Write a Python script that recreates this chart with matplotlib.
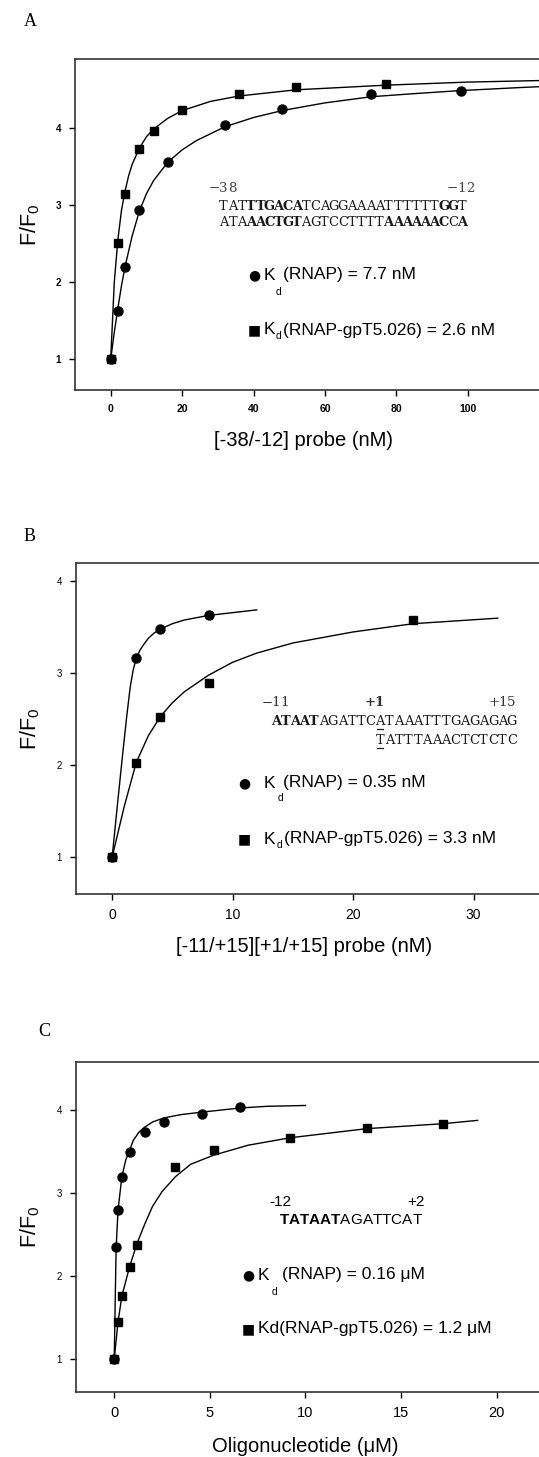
import matplotlib
matplotlib.use('Agg')
import matplotlib.pyplot as plt
from matplotlib.lines import Line2D

plt.rcParams['font.family'] = ['Liberation Sans', 'DejaVu Sans']
plt.rcParams['mathtext.fontset'] = 'custom'
plt.rcParams['mathtext.rm'] = 'Liberation Sans'
plt.rcParams['mathtext.bf'] = 'Liberation Sans:bold'
plt.rcParams['mathtext.it'] = 'Liberation Sans:italic'

# ---- panel A : [-38/-12] probe ----
a_conc_rnap = [0, 2, 4, 8, 16, 32, 48, 73, 98]
a_ratio_rnap = [1.0, 1.63, 2.2, 2.94, 3.56, 4.04, 4.25, 4.44, 4.49]
a_conc_cplx = [0, 2, 4, 8, 12, 20, 36, 52, 77]
a_ratio_cplx = [1.0, 2.51, 3.15, 3.73, 3.97, 4.24, 4.45, 4.54, 4.58]
# fitted curves
a_fit_x_rnap = [0, 1, 2, 3, 4, 6, 8, 10, 12, 16, 20, 24, 32, 40, 48, 60, 73, 85, 98, 115, 130]
a_fit_y_rnap = [1.0, 1.35, 1.66, 1.95, 2.2, 2.6, 2.92, 3.15, 3.32, 3.56, 3.72, 3.84, 4.02,
                4.14, 4.23, 4.33, 4.41, 4.45, 4.49, 4.53, 4.56]
a_fit_x_cplx = [0, 1, 2, 3, 4, 5, 6, 8, 10, 12, 16, 20, 28, 36, 52, 77, 100, 130]
a_fit_y_cplx = [1.0, 2.0, 2.55, 2.93, 3.18, 3.38, 3.53, 3.74, 3.89, 3.99, 4.13, 4.23, 4.35,
                4.42, 4.50, 4.56, 4.60, 4.63]

# ---- panel B : [-11/+15][+1/+15] probe ----
b_conc_rnap = [0, 2, 4, 8]
b_ratio_rnap = [1.0, 3.17, 3.48, 3.63]
b_conc_cplx = [0, 2, 4, 8, 25]
b_ratio_cplx = [1.0, 2.03, 2.53, 2.89, 3.58]
b_fit_x_rnap = [0, 0.4, 0.8, 1.2, 1.5, 1.75, 2, 2.3, 2.6, 3, 3.5, 4, 5, 6, 8, 10, 12]
b_fit_y_rnap = [1.0, 1.52, 2.03, 2.52, 2.85, 3.04, 3.16, 3.25, 3.31, 3.38, 3.44, 3.48, 3.54,
                3.58, 3.63, 3.66, 3.69]
b_fit_x_cplx = [0, 1, 2, 3, 4, 5, 6, 8, 10, 12, 15, 20, 25, 32]
b_fit_y_cplx = [1.0, 1.55, 2.03, 2.32, 2.53, 2.68, 2.8, 2.98, 3.12, 3.22, 3.33, 3.45, 3.54, 3.60]

# ---- panel C : oligonucleotide ----
c_conc_rnap = [0, 0.1, 0.2, 0.4, 0.8, 1.6, 2.6, 4.6, 6.6]
c_ratio_rnap = [1.0, 2.35, 2.80, 3.20, 3.50, 3.74, 3.86, 3.96, 4.04]
c_conc_cplx = [0, 0.2, 0.4, 0.8, 1.2, 3.2, 5.2, 9.2, 13.2, 17.2]
c_ratio_cplx = [1.0, 1.45, 1.76, 2.11, 2.37, 3.32, 3.52, 3.67, 3.79, 3.84]
c_fit_x_rnap = [0, 0.05, 0.1, 0.2, 0.4, 0.6, 0.8, 1.0, 1.3, 1.6, 2.0, 2.6, 3.5, 4.6, 6.6, 8, 10]
c_fit_y_rnap = [1.0, 1.7, 2.35, 2.8, 3.2, 3.4, 3.52, 3.64, 3.74, 3.8, 3.86, 3.91, 3.95,
                3.98, 4.03, 4.05, 4.06]
c_fit_x_cplx = [0, 0.2, 0.4, 0.8, 1.2, 1.6, 2.0, 2.5, 3.2, 4, 5.2, 7, 9.2, 13.2, 17.2, 19]
c_fit_y_cplx = [1.0, 1.45, 1.76, 2.11, 2.4, 2.63, 2.84, 3.02, 3.2, 3.35, 3.46, 3.58, 3.67,
                3.78, 3.84, 3.88]

W, H = 539, 1457
fig = plt.figure(figsize=(W / 100, H / 100), dpi=100)


def fx(x):
    return x / W


def fy(y):
    return 1 - y / H


def panel(left, top, right, bottom, xlim, ylim, xticks, xtick_size, weight):
    ax = fig.add_axes([left / W, 1 - bottom / H, (right - left) / W, (bottom - top) / H])
    ax.set_xlim(*xlim)
    ax.set_ylim(*ylim)
    ax.set_xticks(xticks)
    ax.set_yticks([1, 2, 3, 4])
    for s in ax.spines.values():
        s.set_linewidth(1.2)
        s.set_color('#333333')
    ax.tick_params(axis='x', direction='out', length=4, width=1, pad=6,
                   labelsize=xtick_size)
    ax.tick_params(axis='y', direction='out', length=4, width=1, pad=6, labelsize=7)
    for t in ax.get_xticklabels() + ax.get_yticklabels():
        t.set_fontweight(weight)
    ax.set_ylabel(r'F/F$_\mathregular{0}$', fontsize=15.5)
    return ax


def curves(ax, xr, yr, xc, yc, fxr, fyr, fxc, fyc):
    ax.plot(fxr, fyr, color='black', lw=1.0)
    ax.plot(fxc, fyc, color='black', lw=1.0)
    ax.plot(xr, yr, 'o', color='black', ms=6.5)
    ax.plot(xc, yc, 's', color='black', ms=6)


def seq(segments, x0, y, cw, size=9.4, color='#1a1a1a', underline=()):
    # typewriter style: one glyph per fixed-width cell
    i = 0
    for text, bold in segments:
        for ch in text:
            fig.text(fx(x0 + (i + 0.5) * cw), fy(y), ch, family='DejaVu Serif',
                     fontsize=size, fontweight='bold' if bold else 'normal',
                     color=color, ha='center', va='center')
            if i in underline:
                fig.add_artist(Line2D([fx(x0 + i * cw + 1.5), fx(x0 + (i + 1) * cw - 1.5)],
                                      [fy(y + 7.5), fy(y + 7.5)], color=color, lw=0.9))
            i += 1


def txt(x, y, s, size=12.5, **kw):
    fig.text(fx(x), fy(y), s, fontsize=size, ha='left', va='center', **kw)


# ---------------- A ----------------
axA = panel(75, 59, 575, 390, (-10, 130), (0.6, 4.9), [0, 20, 40, 60, 80, 100], 7.5, 'bold')
curves(axA, a_conc_rnap, a_ratio_rnap, a_conc_cplx, a_ratio_cplx,
       a_fit_x_rnap, a_fit_y_rnap, a_fit_x_cplx, a_fit_y_cplx)
axA.set_xlabel('[-38/-12] probe (nM)', fontsize=14.5)
axA.xaxis.set_label_coords((303 - 75) / 500, (390 - 440) / 331)
axA.xaxis.label.set_va('center')
axA.yaxis.set_label_coords((30 - 75) / 500, 0.5)
axA.yaxis.label.set_va('center')

txt(24, 22, 'A', 13, family='Liberation Serif')
seq([('\u221238', False)], 210, 188, 9.0, 9.6, '#444444')
seq([('\u221212', False)], 448, 188, 9.0, 9.6, '#444444')
seq([('TAT', False), ('TTGACA', True), ('TCAGGAAAATTTTTT', False), ('GG', True), ('T', False)],
    219, 206, 9.17)
seq([('ATA', False), ('AACTGT', True), ('AGTCCTTTT', False), ('AAAAAAC', True), ('C', False),
     ('A', True)], 219, 223, 9.17)
txt(248, 275, '\u25cf', 10, family='DejaVu Sans')
txt(264, 275, 'K')
txt(276, 292, 'd', 7.5)
txt(283, 275, '(RNAP) = 7.7 nM')
txt(248, 330, '\u25a0', 10, family='DejaVu Sans')
txt(264, 330, 'K')
txt(276, 336, 'd', 7.5)
txt(283, 330, '(RNAP-gpT5.026) = 2.6 nM')

# ---------------- B ----------------
axB = panel(76, 563, 594, 894, (-3, 40), (0.6, 4.2), [0, 10, 20, 30], 10, 'normal')
curves(axB, b_conc_rnap, b_ratio_rnap, b_conc_cplx, b_ratio_cplx,
       b_fit_x_rnap, b_fit_y_rnap, b_fit_x_cplx, b_fit_y_cplx)
axB.set_xlabel('[-11/+15][+1/+15] probe (nM)', fontsize=14.5)
axB.xaxis.set_label_coords((304 - 76) / 518, (894 - 947) / 331)
axB.xaxis.label.set_va('center')
axB.yaxis.set_label_coords((30 - 76) / 518, 0.5)
axB.yaxis.label.set_va('center')

txt(24, 536, 'B', 13, family='Liberation Serif')
cw_b = 9.42
seq([('\u221211', False)], 263, 703, 8.6, 9.6, '#333333')
seq([('+1', True)], 366, 703, 8.6, 9.6, '#333333')
seq([('+15', False)], 490, 703, 8.6, 9.6, '#333333')
seq([('ATAAT', True), ('AGATTCATAAATTTGAGAGAG', False)], 271.7, 721.7, cw_b,
    underline=(11,))
seq([('TATTTAAACTCTCTC', False)], 271.7 + 11 * cw_b, 740, cw_b, underline=(0,))
txt(238, 783, '\u25cf', 10, family='DejaVu Sans')
txt(264, 783, 'K')
txt(278, 798, 'd', 7.5)
txt(283, 783, '(RNAP) = 0.35 nM')
txt(238, 839, '\u25a0', 10, family='DejaVu Sans')
txt(264, 839, 'K')
txt(277, 845, 'd', 7.5)
txt(284, 839, '(RNAP-gpT5.026) = 3.3 nM')

# ---------------- C ----------------
axC = panel(76, 1062, 554, 1392, (-2, 23), (0.6, 4.585), [0, 5, 10, 15, 20], 10.5, 'normal')
curves(axC, c_conc_rnap, c_ratio_rnap, c_conc_cplx, c_ratio_cplx,
       c_fit_x_rnap, c_fit_y_rnap, c_fit_x_cplx, c_fit_y_cplx)
axC.set_xlabel('Oligonucleotide (\u03bcM)', fontsize=14.5)
axC.xaxis.set_label_coords((305 - 76) / 478, (1392 - 1447) / 330)
axC.xaxis.label.set_va('center')
axC.yaxis.set_label_coords((30 - 76) / 478, 0.5)
axC.yaxis.label.set_va('center')

txt(38, 1031, 'C', 13, family='Liberation Serif')
txt(269, 1202, '-12', 11)
txt(407, 1202, '+2', 11)
txt(279, 1220, r'$\mathbf{TATAAT}$AGATTCAT', 11)
txt(242, 1275, '\u25cf', 10, family='DejaVu Sans')
txt(258, 1275, 'K')
txt(272, 1292, 'd', 7.5)
txt(282, 1275, '(RNAP) = 0.16 \u03bcM')
txt(242, 1329, '\u25a0', 10, family='DejaVu Sans')
txt(258, 1329, 'Kd(RNAP-gpT5.026) = 1.2 \u03bcM')

fig.savefig('out.png', dpi=100)
